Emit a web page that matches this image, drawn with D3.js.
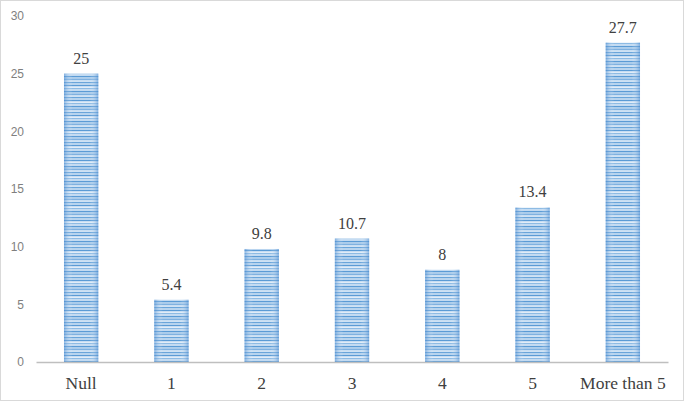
<!DOCTYPE html>
<html>
<head>
<meta charset="utf-8">
<script src="https://cdn.jsdelivr.net/npm/d3@7"></script>
<style>
  body { margin: 0; background: #fff; }
</style>
</head>
<body>
<div id="wrapper"></div>
<script>
const categories = ["Null", "1", "2", "3", "4", "5", "More than 5"]
const values = [25, 5.4, 9.8, 10.7, 8, 13.4, 27.7]
const yTicks = [0, 5, 10, 15, 20, 25, 30]

const width = 685
const height = 403
const margins = { top: 16, right: 17, bottom: 41, left: 36 }
const boundedWidth = width - margins.left - margins.right
const boundedHeight = height - margins.top - margins.bottom

const svg = d3.select("#wrapper")
  .append("svg")
    .attr("width", width)
    .attr("height", height)

// outer frame
svg.append("rect")
    .attr("x", 0.5).attr("y", 0.5)
    .attr("width", width - 2).attr("height", height - 3)
    .attr("fill", "#fff")
    .attr("stroke", "#d9d9d9")

// striped fill for the bars
const defs = svg.append("defs")
const stripeColors = ["#5b9bd5", "#a9cbeb", "#7fb1e0", "#cfe2f4", "#6aa5da", "#b8d4ef", "#5b9bd5", "#e0ecf8", "#8dbbe4", "#c2daf1"]
const pattern = defs.append("pattern")
    .attr("id", "stripes")
    .attr("patternUnits", "userSpaceOnUse")
    .attr("width", 10)
    .attr("height", stripeColors.length * 1.5)
pattern.selectAll("rect")
  .data(stripeColors)
  .join("rect")
    .attr("x", 0)
    .attr("y", (d, i) => i * 1.5)
    .attr("width", 10)
    .attr("height", 1.5)
    .attr("fill", d => d)

const edge = defs.append("linearGradient")
    .attr("id", "edges")
    .attr("x1", "0%").attr("x2", "100%")
edge.append("stop").attr("offset", "0%").attr("stop-color", "#4a8bd0").attr("stop-opacity", 0.55)
edge.append("stop").attr("offset", "25%").attr("stop-color", "#fff").attr("stop-opacity", 0)
edge.append("stop").attr("offset", "75%").attr("stop-color", "#fff").attr("stop-opacity", 0)
edge.append("stop").attr("offset", "100%").attr("stop-color", "#4a8bd0").attr("stop-opacity", 0.55)

const bounds = svg.append("g")
    .attr("transform", `translate(${margins.left}, ${margins.top})`)

const xScale = d3.scaleBand()
  .domain(categories)
  .range([0, boundedWidth])
  .paddingInner(0.62)
  .paddingOuter(0.31)

const yScale = d3.scaleLinear()
  .domain([0, 30])
  .range([boundedHeight, 0])

const data = categories.map((c, i) => ({ cat: c, value: values[i] }))

// bars
const bars = bounds.append("g")
bars.selectAll(".bar")
  .data(data)
  .join("rect")
    .attr("class", "bar")
    .attr("x", d => xScale(d.cat))
    .attr("y", d => yScale(d.value))
    .attr("width", xScale.bandwidth())
    .attr("height", d => boundedHeight - yScale(d.value))
    .attr("fill", "url(#stripes)")
bars.selectAll(".shade")
  .data(data)
  .join("rect")
    .attr("class", "shade")
    .attr("x", d => xScale(d.cat))
    .attr("y", d => yScale(d.value))
    .attr("width", xScale.bandwidth())
    .attr("height", d => boundedHeight - yScale(d.value))
    .attr("fill", "url(#edges)")

// value labels
bounds.append("g")
  .selectAll("text")
  .data(data)
  .join("text")
    .attr("x", d => xScale(d.cat) + xScale.bandwidth() / 2)
    .attr("y", d => yScale(d.value) - 10)
    .attr("text-anchor", "middle")
    .attr("fill", "#404040")
    .style("font-family", "'Liberation Serif', 'Times New Roman', serif")
    .style("font-size", "16px")
    .text(d => d.value)

// y axis (labels only)
const yAxis = bounds.append("g")
  .call(d3.axisLeft(yScale).tickValues(yTicks).tickSize(0).tickPadding(12))
yAxis.select(".domain").remove()
yAxis.selectAll("text")
    .attr("fill", "#7f7f7f")
    .style("font-family", "'Liberation Sans', Arial, sans-serif")
    .style("font-size", "12px")

// x axis
const xAxis = bounds.append("g")
    .attr("transform", `translate(0, ${boundedHeight})`)
  .call(d3.axisBottom(xScale).tickSize(0).tickPadding(15))
xAxis.select(".domain")
    .attr("stroke", "#bfbfbf")
    .attr("stroke-width", 1.5)
xAxis.selectAll("text")
    .attr("fill", "#404040")
    .style("font-family", "'Liberation Serif', 'Times New Roman', serif")
    .style("font-size", "17.5px")
</script>
</body>
</html>
